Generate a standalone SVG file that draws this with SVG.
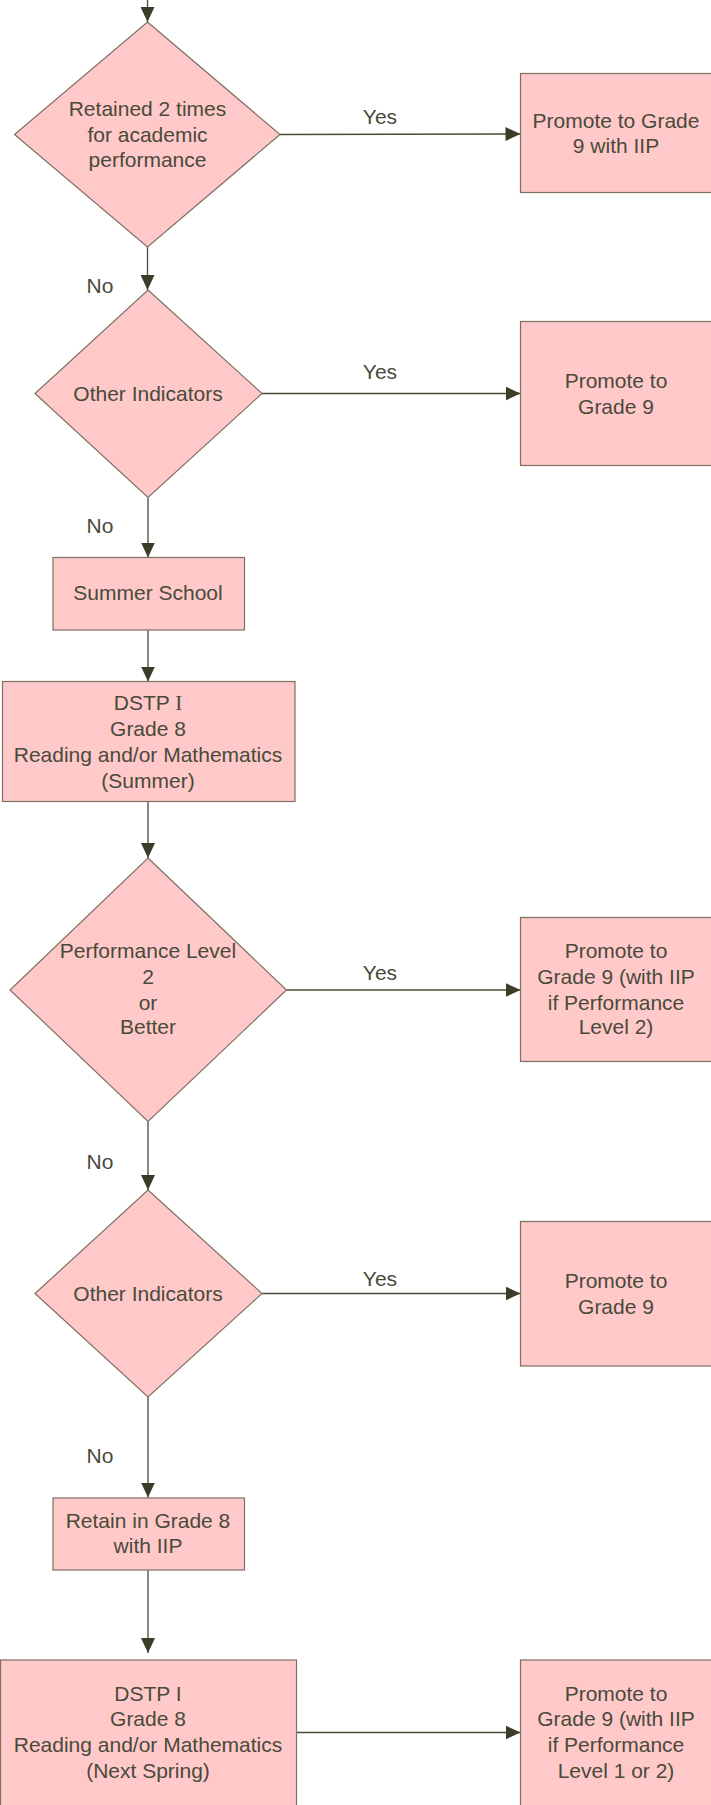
<svg xmlns="http://www.w3.org/2000/svg" width="711" height="1805" viewBox="0 0 711 1805">
<style>
.n{fill:#ffc9c9;stroke:#7d7060;stroke-width:1.2}
.t{font-family:"Liberation Sans",Arial,sans-serif;font-size:21px;fill:#4a4a3a;text-anchor:middle}
.c{fill:none;stroke:#4a4a38;stroke-width:1.3}
.s{font-family:"Liberation Serif","Times New Roman",serif}
</style>
<defs>
<marker id="ah" markerUnits="userSpaceOnUse" markerWidth="15" markerHeight="14" refX="15" refY="7" orient="auto">
<path d="M0,0 L15,7 L0,14 z" fill="#3c3c28"/>
</marker>
</defs>
<rect width="711" height="1805" fill="#ffffff"/>
<g id="connectors">
<line class="c" x1="147.5" y1="0" x2="147.5" y2="22" marker-end="url(#ah)"/>
<line class="c" x1="147.5" y1="247" x2="147.5" y2="290" marker-end="url(#ah)"/>
<line class="c" x1="280" y1="134.5" x2="520.5" y2="134" marker-end="url(#ah)"/>
<line class="c" x1="262" y1="393.5" x2="520.5" y2="393.5" marker-end="url(#ah)"/>
<line class="c" x1="148" y1="498" x2="148" y2="557.5" marker-end="url(#ah)"/>
<line class="c" x1="148" y1="630" x2="148" y2="681.5" marker-end="url(#ah)"/>
<line class="c" x1="148" y1="801.5" x2="148" y2="858" marker-end="url(#ah)"/>
<line class="c" x1="286.5" y1="990" x2="520.5" y2="990" marker-end="url(#ah)"/>
<line class="c" x1="148" y1="1121.5" x2="148" y2="1190" marker-end="url(#ah)"/>
<line class="c" x1="262" y1="1293.5" x2="520.5" y2="1293.5" marker-end="url(#ah)"/>
<line class="c" x1="148" y1="1397" x2="148" y2="1497.5" marker-end="url(#ah)"/>
<line class="c" x1="148" y1="1570" x2="148" y2="1653" marker-end="url(#ah)"/>
<line class="c" x1="296.5" y1="1732.5" x2="520.5" y2="1732.5" marker-end="url(#ah)"/>
<text class="t" x="380" y="124">Yes</text>
<text class="t" x="380" y="378.5">Yes</text>
<text class="t" x="380" y="980">Yes</text>
<text class="t" x="380" y="1286">Yes</text>
<text class="t" x="100" y="292.5">No</text>
<text class="t" x="100" y="532.5">No</text>
<text class="t" x="100" y="1169">No</text>
<text class="t" x="100" y="1462.5">No</text>
</g>
<g id="d1">
<polygon class="n" points="147.5,22 280,134.5 147.5,247 14.5,134.5"/>
<text class="t" x="147.5" y="116">Retained 2 times</text>
<text class="t" x="147.5" y="142">for academic</text>
<text class="t" x="147.5" y="167">performance</text>
</g>
<g id="p1">
<rect class="n" x="520.5" y="73.5" width="200" height="119"/>
<text class="t" x="616" y="127.5">Promote to Grade</text>
<text class="t" x="616" y="153">9 with IIP</text>
</g>
<g id="d2">
<polygon class="n" points="148,290 262,393.5 148,497.5 35,393.5"/>
<text class="t" x="148" y="400.5">Other Indicators</text>
</g>
<g id="p2">
<rect class="n" x="520.5" y="321.5" width="200" height="144"/>
<text class="t" x="616" y="387.5">Promote to</text>
<text class="t" x="616" y="413.5">Grade 9</text>
</g>
<g id="ss">
<rect class="n" x="53" y="557.5" width="191.5" height="72.5"/>
<text class="t" x="148" y="600">Summer School</text>
</g>
<g id="dstp1">
<rect class="n" x="2.5" y="681.5" width="292.5" height="120"/>
<text class="t" x="148" y="710">DSTP <tspan class="s">I</tspan></text>
<text class="t" x="148" y="736">Grade 8</text>
<text class="t" x="148" y="761.5">Reading and/or Mathematics</text>
<text class="t" x="148" y="787.5">(Summer)</text>
</g>
<g id="d3">
<polygon class="n" points="148,858 286.5,990 148,1121.5 10,990"/>
<text class="t" x="148" y="958">Performance Level</text>
<text class="t" x="148" y="983.5">2</text>
<text class="t" x="148" y="1009.5">or</text>
<text class="t" x="148" y="1034">Better</text>
</g>
<g id="p3">
<rect class="n" x="520.5" y="917.5" width="200" height="144"/>
<text class="t" x="616" y="958">Promote to</text>
<text class="t" x="616" y="983.5">Grade 9 (with IIP</text>
<text class="t" x="616" y="1009.5">if Performance</text>
<text class="t" x="616" y="1034">Level 2)</text>
</g>
<g id="d4">
<polygon class="n" points="148,1190 262,1293.5 148,1397 35,1293.5"/>
<text class="t" x="148" y="1300.5">Other Indicators</text>
</g>
<g id="p4">
<rect class="n" x="520.5" y="1221.5" width="200" height="144.5"/>
<text class="t" x="616" y="1288">Promote to</text>
<text class="t" x="616" y="1313.5">Grade 9</text>
</g>
<g id="retain">
<rect class="n" x="53" y="1498" width="191.5" height="72"/>
<text class="t" x="148" y="1527.5">Retain in Grade 8</text>
<text class="t" x="148" y="1553">with IIP</text>
</g>
<g id="dstp2">
<rect class="n" x="0.5" y="1660" width="296" height="150"/>
<text class="t" x="148" y="1701">DSTP I</text>
<text class="t" x="148" y="1726">Grade 8</text>
<text class="t" x="148" y="1752">Reading and/or Mathematics</text>
<text class="t" x="148" y="1777.5">(Next Spring)</text>
</g>
<g id="p5">
<rect class="n" x="520.5" y="1660" width="200" height="150"/>
<text class="t" x="616" y="1701">Promote to</text>
<text class="t" x="616" y="1726">Grade 9 (with IIP</text>
<text class="t" x="616" y="1752">if Performance</text>
<text class="t" x="616" y="1777.5">Level 1 or 2)</text>
</g>
</svg>
